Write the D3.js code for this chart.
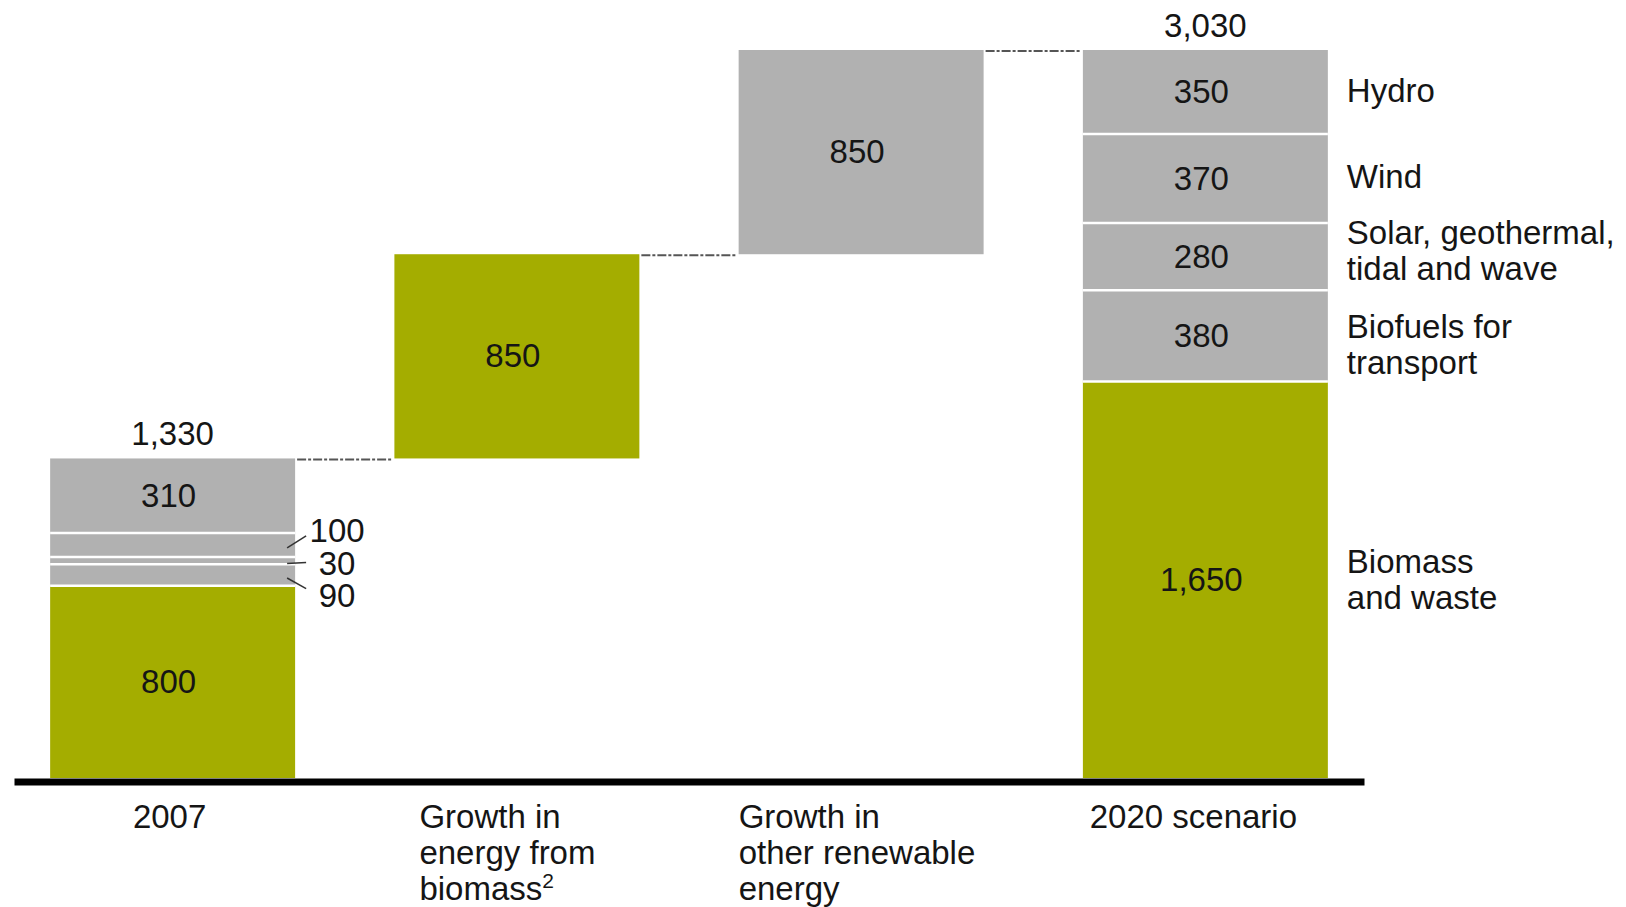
<!DOCTYPE html>
<html>
<head>
<meta charset="utf-8">
<script src="https://cdn.jsdelivr.net/npm/d3@7"></script>
<style>
  body { margin: 0; background: #fff; }
  text { font-family: Arial, "Liberation Sans", sans-serif; fill: #151515; }
</style>
</head>
<body>
<div class="chart"></div>
<script>
// categories along the x axis
const categories = ['2007', 'Growth in energy from biomass2', 'Growth in other renewable energy', '2020 scenario'];
const categoryLines = [['2007'], ['Growth in', 'energy from', 'biomass'], ['Growth in', 'other renewable', 'energy'], ['2020 scenario']];

// energy sources, stacked bottom to top
const sources = ['Biomass and waste', 'Biofuels for transport', 'Solar, geothermal, tidal and wave', 'Wind', 'Hydro'];
const sourceLines = [['Biomass', 'and waste'], ['Biofuels for', 'transport'], ['Solar, geothermal,', 'tidal and wave'], ['Wind'], ['Hydro']];
const values2007 = [800, 90, 30, 100, 310];
const values2020 = [1650, 380, 280, 370, 350];
const growthValues = [850, 850];
const totals = [1330, 3030];

const green = '#a4ad00';
const grey = '#b1b1b1';

renderChart();

function renderChart() {
	const width = 1626;
	const height = 907;
	const base = 778;
	const fs = '33px';

	const svg = d3.select('.chart')
		.append('svg')
		.attr('width', width)
		.attr('height', height);

	const x = d3.scaleBand()
		.domain(categories)
		.range([14, 1364])
		.paddingInner(0.2884)
		.paddingOuter(0.105);

	const y = d3.scaleLinear()
		.domain([0, 3030])
		.range([base, 50]);

	const bw = x.bandwidth();

	// build stacked segments
	function stack(cat, values, start) {
		let acc = start;
		return values.map(function (v, i) {
			const seg = { cat: cat, source: i, value: v, y0: acc, y1: acc + v };
			acc += v;
			return seg;
		});
	}
	const segs = []
		.concat(stack(categories[0], values2007, 0))
		.concat([{ cat: categories[1], source: 0, value: growthValues[0], y0: totals[0], y1: totals[0] + growthValues[0] }])
		.concat([{ cat: categories[2], source: 1, value: growthValues[1], y0: totals[0] + growthValues[0], y1: totals[0] + growthValues[0] + growthValues[1] }])
		.concat(stack(categories[3], values2020, 0));

	svg.selectAll('.seg')
		.data(segs)
		.enter()
		.append('rect')
		.attr('class', 'seg')
		.attr('x', function (d) { return x(d.cat); })
		.attr('y', function (d) { return y(d.y1); })
		.attr('width', bw)
		.attr('height', function (d) { return y(d.y0) - y(d.y1); })
		.style('fill', function (d) { return d.source == 0 ? green : grey; });

	// white dividers between stacked segments
	const dividers = segs.filter(function (d) {
		return d.y0 > 0 && (d.cat == categories[0] || d.cat == categories[3]);
	});
	svg.selectAll('.divider')
		.data(dividers)
		.enter()
		.append('line')
		.attr('x1', function (d) { return x(d.cat); })
		.attr('x2', function (d) { return x(d.cat) + bw; })
		.attr('y1', function (d) { return y(d.y0); })
		.attr('y2', function (d) { return y(d.y0); })
		.attr('stroke', '#fff')
		.attr('stroke-width', 2.5);

	// dashed connectors between bar tops
	const tops = [totals[0], totals[0] + growthValues[0], totals[1]];
	svg.selectAll('.connector')
		.data(tops)
		.enter()
		.append('line')
		.attr('x1', function (d, i) { return x(categories[i]) + bw + 2; })
		.attr('x2', function (d, i) { return x(categories[i + 1]) - 2; })
		.attr('y1', function (d) { return y(d) + 1; })
		.attr('y2', function (d) { return y(d) + 1; })
		.attr('stroke', '#555')
		.attr('stroke-width', 2)
		.attr('stroke-dasharray', '9,2,3,2');

	// labels inside segments
	const inside = segs.filter(function (d) { return y(d.y0) - y(d.y1) > 40; });
	svg.selectAll('.val')
		.data(inside)
		.enter()
		.append('text')
		.attr('x', function (d) { return x(d.cat) + bw / 2 - 4; })
		.attr('y', function (d) { return (y(d.y0) + y(d.y1)) / 2 + 11; })
		.attr('text-anchor', 'middle')
		.attr('font-size', fs)
		.text(function (d) { return d3.format(',')(d.value); });

	// small segments of 2007 with leader lines
	const small = segs.filter(function (d) { return y(d.y0) - y(d.y1) <= 40; });
	const right = x(categories[0]) + bw;
	const midIdx = Math.floor(small.length / 2);
	const mid = (y(small[midIdx].y0) + y(small[midIdx].y1)) / 2 + 3;
	small.forEach(function (d, i) {
		d.cy = (y(d.y0) + y(d.y1)) / 2;
		d.ly = mid + (midIdx - i) * 32.5;
	});
	svg.selectAll('.leader')
		.data(small)
		.enter()
		.append('line')
		.attr('x1', right - 8)
		.attr('y1', function (d) { return d.cy + 3; })
		.attr('x2', right + 11)
		.attr('y2', function (d) { return d.ly + 0.35 * (d.cy - d.ly); })
		.attr('stroke', '#333')
		.attr('stroke-width', 1.5);
	svg.selectAll('.smallval')
		.data(small)
		.enter()
		.append('text')
		.attr('x', right + 42)
		.attr('y', function (d) { return d.ly + 11; })
		.attr('text-anchor', 'middle')
		.attr('font-size', fs)
		.text(function (d) { return d.value; });

	// totals above bars
	svg.selectAll('.total')
		.data(totals)
		.enter()
		.append('text')
		.attr('x', function (d, i) { return x(categories[i * 3]) + bw / 2; })
		.attr('y', function (d) { return y(d) - 13; })
		.attr('text-anchor', 'middle')
		.attr('font-size', fs)
		.text(function (d) { return d3.format(',')(d); });

	// source labels to the right of the 2020 bar
	const nudge = [0, 9, -6, -2, -1];
	const segs2020 = segs.filter(function (d) { return d.cat == categories[3]; });
	const srcLabels = svg.selectAll('.src')
		.data(segs2020)
		.enter()
		.append('text')
		.attr('class', 'src')
		.attr('font-size', fs)
		.attr('x', x(categories[3]) + bw + 19);
	srcLabels.each(function (d) {
		const lines = sourceLines[d.source];
		const cy = (y(d.y0) + y(d.y1)) / 2 + nudge[d.source];
		const top = cy - (lines.length - 1) * 36 / 2 + 11;
		d3.select(this).selectAll('tspan')
			.data(lines)
			.enter()
			.append('tspan')
			.attr('x', x(categories[3]) + bw + 19)
			.attr('y', function (l, j) { return top + j * 36; })
			.text(function (l) { return l; });
	});

	// x axis: thick baseline
	const axis = svg.append('g')
		.attr('transform', 'translate(0,' + (base + 3.5) + ')')
		.call(d3.axisBottom(x).tickSize(0).tickSizeOuter(0).tickFormat(''));
	axis.select('.domain')
		.attr('stroke', '#000')
		.attr('stroke-width', 7);

	// category labels
	const anchors = ['middle', 'start', 'start', 'middle'];
	const shifts = [-3, 25, 0, -12];
	const cats = svg.selectAll('.cat')
		.data(categories)
		.enter()
		.append('text')
		.attr('class', 'cat')
		.attr('font-size', fs)
		.attr('text-anchor', function (d, i) { return anchors[i]; });
	cats.each(function (d, i) {
		const xx = anchors[i] == 'middle' ? x(d) + bw / 2 + shifts[i] : x(d) + shifts[i];
		const t = d3.select(this);
		categoryLines[i].forEach(function (l, j) {
			t.append('tspan')
				.attr('x', xx)
				.attr('y', 828 + j * 36)
				.text(l);
			if (i == 1 && j == 2) {
				t.append('tspan')
					.attr('dy', -12)
					.attr('font-size', '21px')
					.text('2');
			}
		});
	});
}
</script>
</body>
</html>
